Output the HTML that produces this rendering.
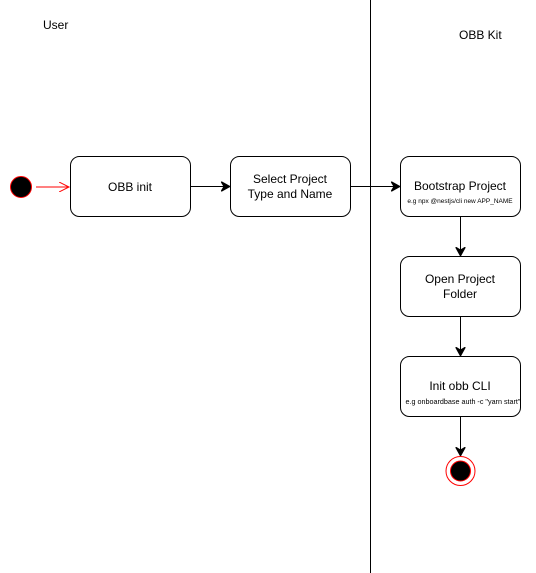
<!DOCTYPE html>
<html><head><meta charset="utf-8"><style>
html,body{margin:0;padding:0;background:#fff;}
svg{display:block;}
text{font-family:"Liberation Sans",Arial,sans-serif;fill:#000;}
</style></head><body>
<svg width="536" height="573" viewBox="0 0 536 573" xmlns="http://www.w3.org/2000/svg">
<defs>
<marker id="a" markerWidth="10" markerHeight="10" refX="8" refY="5" orient="auto" markerUnits="userSpaceOnUse">
<path d="M0,0 L9,5 L0,10 L3,5 Z" fill="#000" stroke="#000" stroke-width="1"/>
</marker>
<marker id="r" markerWidth="12" markerHeight="10" refX="10" refY="5" orient="auto" markerUnits="userSpaceOnUse">
<path d="M0,0 L10,5 L0,10" fill="none" stroke="#f00" stroke-width="1"/>
</marker>
</defs>
<line x1="370.5" y1="0" x2="370.5" y2="573" stroke="#000" stroke-width="1"/>
<text x="43" y="29" font-size="12">User</text>
<text x="459" y="39" font-size="12">OBB Kit</text>

<circle cx="21" cy="187" r="10.5" fill="#000" stroke="#f00" stroke-width="1"/>
<line x1="36" y1="187" x2="69" y2="187" stroke="#f00" stroke-width="1" marker-end="url(#r)"/>

<rect x="70.5" y="156.5" width="120" height="60" rx="9" fill="#fff" stroke="#000"/>
<text x="130" y="191" font-size="12" text-anchor="middle">OBB init</text>
<line x1="190" y1="186.5" x2="229" y2="186.5" stroke="#000" marker-end="url(#a)"/>

<rect x="230.5" y="156.5" width="120" height="60" rx="9" fill="#fff" stroke="#000"/>
<text x="290" y="183" font-size="12" text-anchor="middle">Select Project</text>
<text x="290" y="198" font-size="12" text-anchor="middle">Type and Name</text>
<line x1="350" y1="186.5" x2="399" y2="186.5" stroke="#000" marker-end="url(#a)"/>

<rect x="400.5" y="156.5" width="120" height="60" rx="9" fill="#fff" stroke="#000"/>
<text x="460" y="190" font-size="12" text-anchor="middle">Bootstrap Project</text>
<text x="460" y="203" font-size="6.5" text-anchor="middle">e.g npx @nestjs/cli new APP_NAME</text>
<line x1="460.5" y1="216" x2="460.5" y2="255" stroke="#000" marker-end="url(#a)"/>

<rect x="400.5" y="256.5" width="120" height="60" rx="9" fill="#fff" stroke="#000"/>
<text x="460" y="283" font-size="12" text-anchor="middle">Open Project</text>
<text x="460" y="298" font-size="12" text-anchor="middle">Folder</text>
<line x1="460.5" y1="316" x2="460.5" y2="355" stroke="#000" marker-end="url(#a)"/>

<rect x="400.5" y="356.5" width="120" height="60" rx="9" fill="#fff" stroke="#000"/>
<text x="460" y="390" font-size="12" text-anchor="middle">Init obb CLI</text>
<text x="463" y="404" font-size="7.2" text-anchor="middle">e.g onboardbase auth -c "yarn start"</text>
<line x1="460.5" y1="416" x2="460.5" y2="455" stroke="#000" marker-end="url(#a)"/>

<circle cx="460.5" cy="471" r="14.5" fill="#fff" stroke="#f00" stroke-width="1"/>
<circle cx="460.5" cy="471" r="10" fill="#000" stroke="#f00" stroke-width="1"/>
</svg>
</body></html>
